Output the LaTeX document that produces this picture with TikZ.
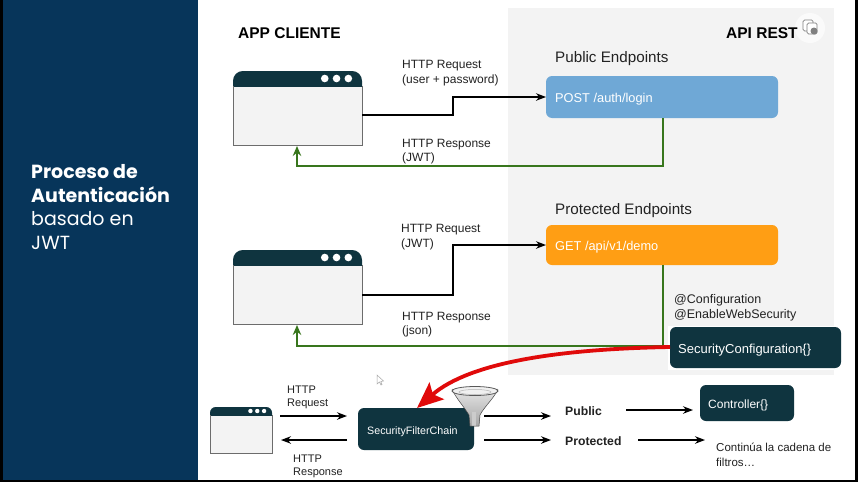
\documentclass[tikz,border=0pt]{standalone}
\usepackage{fontspec}
\setmainfont{Liberation Sans}
\newfontfamily\panelfont{Poppins}
\usetikzlibrary{arrows.meta,calc}
\definecolor{navy}{HTML}{07355A}
\definecolor{teal}{HTML}{0F343F}
\definecolor{panel}{HTML}{F3F3F3}
\definecolor{pubblue}{HTML}{6FA8D6}
\definecolor{orangebox}{HTML}{FF9E14}
\definecolor{greenline}{HTML}{38761D}
\definecolor{redline}{HTML}{E00A0A}
\definecolor{ink}{HTML}{222222}
\tikzset{
  x=1pt,y=-1pt,
  lbl/.style={anchor=west,align=left,inner sep=0pt,font=\fontsize{12}{14.5}\selectfont,text=ink},
  title/.style={anchor=west,inner sep=0pt,font=\fontsize{15.5}{18}\selectfont\bfseries,text=black},
  head/.style={anchor=west,inner sep=0pt,font=\fontsize{15.2}{17}\selectfont,text=ink},
  blk/.style={draw=black,line width=1.4pt,-{Stealth[length=10pt,width=7.5pt]}},
  grn/.style={draw=greenline,line width=1.3pt,-{Stealth[length=10pt,width=8.5pt]}},
  wtxt/.style={anchor=west,inner sep=0pt,text=white},
}
\newcommand{\browser}[6]{% x1,y1,x2,y2,header bottom,dot radius
  \fill[panel] (#1,#5) rectangle (#3,#4);
  \begin{scope}
    \clip (#1,#2) rectangle (#3,#5);
    \fill[teal,rounded corners=#6*2.6pt] (#1,#2) rectangle (#3,#5+20);
  \end{scope}
  \draw[gray!85!black,line width=1pt] (#1,#5) -- (#1,#4) -- (#3,#4) -- (#3,#5);
  \foreach \k in {0,1,2} \fill[white] ({#3-#6*3.6-\k*#6*3.1},{(#2+#5)/2}) circle[radius=#6];
}
\begin{document}
\begin{tikzpicture}
\useasboundingbox (0,0) rectangle (858,482);
\fill[white] (0,0) rectangle (858,482);
\fill[navy] (3,0) rectangle (198,482);
\fill[black] (0,0) rectangle (3,482);
\fill[black] (855,0) rectangle (858,482);
\fill[black] (0,480) rectangle (858,482);
\fill[panel] (508,8) rectangle (834,375);

\node[anchor=north west,align=left,inner sep=0pt,text=white,font=\panelfont\fontsize{19}{23.5}\selectfont] (side) at (31,164.5)
  {\textbf{Proceso de}\\\textbf{Autenticación}\\basado en\\JWT};

% copy icon
\fill[white,opacity=.6] (810,28) circle[radius=15];
\draw[gray,line width=.7pt,rounded corners=1.5pt,fill=white] (803,20) rectangle (813,31);
\draw[gray,line width=.7pt,rounded corners=1.5pt,fill=white] (807,23) rectangle (817,34);
\fill[gray] (814,31) circle[radius=3.5];

\node[title] (appt) at (238,33) {APP CLIENTE};
\node[title] (apit) at (726,33) {API REST};

\node[head] (pubt) at (555,59) {Public Endpoints};
\node[head] (prot) at (555,211) {Protected Endpoints};

% browsers
\browser{233}{71}{362}{145}{86}{3.8}
\coordinate (b1r) at (362,115);
\coordinate (b1b) at (297,146);
\browser{233}{250}{362}{324}{265}{3.8}
\coordinate (b2r) at (362,295);
\coordinate (b2b) at (297,325);
\browser{210}{407}{272}{453}{415}{2.2}

% endpoints
\fill[pubblue,rounded corners=6pt] (546,76) rectangle (778,118);
\node[wtxt,font=\fontsize{12.8}{15}\selectfont] (postl) at (555,99.5) {POST /auth/login};
\coordinate (post) at (546,97);
\coordinate (postb) at (663,118);
\fill[orangebox,rounded corners=6pt] (546,225) rectangle (778,265);
\node[wtxt,font=\fontsize{12.8}{15}\selectfont] (getl) at (555,247.5) {GET /api/v1/demo};
\coordinate (get) at (546,245);
\coordinate (getb) at (663,265);

% flow arrows
\draw[blk] (b1r) -| (453,97) -- (post);
\draw[blk] (b2r) -| (453,245) -- (get);
\draw[grn] (postb) |- (297,166) -- (b1b);
\draw[grn] (getb) |- (297,346) -- (b2b);

\node[lbl] (l1) at (402,73) {HTTP Request\\(user + password)};
\node[lbl] (l2) at (402,151.5) {HTTP Response\\(JWT)};
\node[lbl] (l3) at (401,237) {HTTP Request\\(JWT)};
\node[lbl] (l4) at (402,324.5) {HTTP Response\\(json)};

\node[lbl,font=\fontsize{12.5}{15.5}\selectfont] (l5) at (674,308) {@Configuration\\@EnableWebSecurity};

% dark boxes
\fill[white] (668,326) rectangle (843,370);
\fill[teal,rounded corners=6pt] (670,327) rectangle (841,368);
\node[wtxt,font=\fontsize{13}{15}\selectfont] (secl) at (678,350) {SecurityConfiguration\{\}};
\coordinate (sec) at (670,347);
\fill[teal,rounded corners=6pt] (700,385) rectangle (794,421);
\node[wtxt,font=\fontsize{12}{15}\selectfont] (ctl) at (708,405) {Controller\{\}};
\fill[teal,rounded corners=6pt] (358,408) rectangle (474,450);
\node[wtxt,font=\fontsize{10.7}{14}\selectfont] (sfcl) at (367,432) {SecurityFilterChain};
\coordinate (sfc) at (417,408);

% red arrow
\draw[redline,line width=3.8pt,-{Stealth[length=26pt,width=22pt,inset=5pt]}] (sec) .. controls (560,349) and (470,362) .. (sfc);

% funnel
\shade[top color=gray!20,bottom color=gray!70] (452,389) .. controls (455,397) and (465,408) .. (469,415) -- (470,426) -- (479,426) -- (480,415) .. controls (484,407) and (495,397) .. (498,389) -- cycle;
\fill[gray!40] (472,412) rectangle (476,426);
\draw[gray!55!black,line width=.5pt] (452,389) .. controls (455,397) and (465,408) .. (469,415) -- (470,426) -- (479,426) -- (480,415) .. controls (484,407) and (495,397) .. (498,389);
\draw[gray!70!black,fill=gray!12,line width=.8pt] (475,391) ellipse[x radius=23,y radius=4.5];
\draw[gray!60,line width=.5pt] (475,392) ellipse[x radius=16,y radius=2.5];

% cursor
\draw[gray!70,line width=.5pt,fill=white] (377,375) -- (377,384) -- (379.5,382) -- (381,385) -- (382,384.5) -- (380.8,381.5) -- (383.5,381) -- cycle;

% bottom row
\coordinate (a1) at (280,416); \coordinate (a2) at (347,416);
\coordinate (a3) at (347,440); \coordinate (a4) at (281,440);
\coordinate (a5) at (484,416); \coordinate (a6) at (551,416);
\coordinate (a7) at (484,440); \coordinate (a8) at (551,440);
\coordinate (a9) at (626,410); \coordinate (a10) at (693,410);
\coordinate (a11) at (638,440); \coordinate (a12) at (705,440);
\foreach \s/\e in {a1/a2,a3/a4,a5/a6,a7/a8,a9/a10,a11/a12}
  \draw[blk] (\s) -- (\e);

\node[lbl,font=\fontsize{11}{13}\selectfont] (r1) at (287,397) {HTTP\\Request};
\node[lbl,font=\fontsize{11}{13}\selectfont] (r2) at (293,466) {HTTP\\Response};
\node[lbl,font=\fontsize{12.2}{15}\selectfont\bfseries] (pub) at (565,411.5) {Public};
\node[lbl,font=\fontsize{12.2}{15}\selectfont\bfseries] (pro) at (565,441) {Protected};
\node[lbl,font=\fontsize{11.5}{14.5}\selectfont] (cont) at (716,455) {Continúa la cadena de\\filtros…};
\end{tikzpicture}
\end{document}
